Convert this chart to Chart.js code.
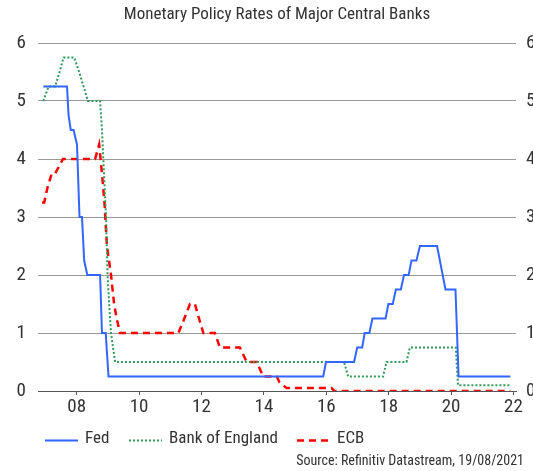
<!DOCTYPE html>
<html>
<head>
<meta charset="utf-8">
<script src="https://cdn.jsdelivr.net/npm/chart.js@4.4.1/dist/chart.umd.min.js"></script>
<style>
 html,body{margin:0;padding:0;background:#fff;}
 #wrap{width:533px;height:471px;position:relative;}
</style>
</head>
<body>
<div id="wrap"><canvas id="rates"></canvas></div>
<script>
// decimal years, % rates
const fedDates=[2006.93,2007.69,2007.74,2007.81,2007.90,2008.01,2008.09,2008.17,2008.24,2008.34,2008.75,2008.81,2008.93,2009.02,2015.90,2015.99,2016.89,2016.99,2017.15,2017.23,2017.38,2017.48,2017.90,2017.99,2018.13,2018.23,2018.39,2018.49,2018.64,2018.73,2018.89,2019.00,2019.55,2019.82,2020.14,2020.24,2021.90];
const fedRates=[5.25,5.25,4.75,4.5,4.5,4.25,3.0,3.0,2.25,2.0,2.0,1.0,1.0,0.25,0.25,0.5,0.5,0.75,0.75,1.0,1.0,1.25,1.25,1.5,1.5,1.75,1.75,2.0,2.0,2.25,2.25,2.5,2.5,1.75,1.75,0.25,0.25];

const boeDates=[2006.93,2007.10,2007.31,2007.45,2007.58,2007.92,2008.08,2008.22,2008.36,2008.75,2008.81,2008.94,2008.99,2009.04,2009.10,2009.23,2016.57,2016.70,2017.82,2017.93,2018.57,2018.68,2020.15,2020.22,2021.88];
const boeRates=[5.0,5.25,5.25,5.5,5.75,5.75,5.5,5.25,5.0,5.0,4.5,3.0,2.0,1.5,1.0,0.5,0.5,0.25,0.25,0.5,0.5,0.75,0.75,0.1,0.1];

const ecbDates=[2006.89,2006.96,2007.06,2007.20,2007.31,2007.56,2008.59,2008.72,2008.81,2008.89,2008.97,2009.10,2009.20,2009.28,2009.39,2011.26,2011.45,2011.63,2011.79,2011.92,2012.06,2012.43,2012.59,2013.23,2013.45,2013.77,2013.98,2014.41,2014.50,2014.73,2016.17,2016.26,2021.90];
const ecbRates=[3.25,3.25,3.5,3.75,3.75,4.0,4.0,4.25,3.75,3.25,2.5,2.0,1.5,1.25,1.0,1.0,1.25,1.5,1.5,1.25,1.0,1.0,0.75,0.75,0.5,0.5,0.25,0.25,0.15,0.05,0.05,0.0,0.0];

const xTicks=[2008,2010,2012,2014,2016,2018,2020,2022];
const xLabels=['08','10','12','14','16','18','20','22'];
const yTicks=[0,1,2,3,4,5,6];

const title='Monetary Policy Rates of Major Central Banks';
const source='Source: Refinitiv Datastream, 19/08/2021';

const FONT='"Liberation Sans Narrow","Roboto Condensed","Liberation Sans",Arial,sans-serif';
const ink='#333';
const pts=(xs,ys)=>xs.map((x,i)=>({x,y:ys[i]}));

const extras={
 id:'extras',
 afterDraw(chart){
  const {ctx,chartArea:a}=chart;
  ctx.save();
  ctx.fillStyle=ink;
  ctx.font='17px '+FONT;
  ctx.textAlign='center';ctx.textBaseline='middle';
  ctx.fillText(title,(a.left+a.right)/2,15);

  // legend
  const items=[[45,85],[129,169],[297,337]];
  ctx.textAlign='left';
  chart.data.datasets.forEach((ds,i)=>{
   const [lx,tx]=items[i];
   ctx.save();
   ctx.strokeStyle=ds.borderColor;
   ctx.lineWidth=ds.borderWidth;
   ctx.setLineDash(ds.borderDash||[]);
   ctx.beginPath();ctx.moveTo(lx,440.5);ctx.lineTo(lx+33,440.5);ctx.stroke();
   ctx.restore();
   ctx.font='17px '+FONT;
   ctx.fillText(ds.label,tx,439);
  });

  ctx.font='14px '+FONT;
  ctx.textAlign='right';
  ctx.fillText(source,524,461);
  ctx.restore();
 }
};

new Chart(document.getElementById('rates'),{
 type:'line',
 data:{datasets:[
  {label:'Fed',data:pts(fedDates,fedRates),borderColor:'#3366ff',borderWidth:2,pointRadius:0,tension:0},
  {label:'Bank of England',data:pts(boeDates,boeRates),borderColor:'#2e9a58',borderWidth:2,borderDash:[2,2],pointRadius:0,tension:0},
  {label:'ECB',data:pts(ecbDates,ecbRates),borderColor:'#ff0000',borderWidth:2.5,borderDash:[7,5],pointRadius:0,tension:0}
 ]},
 options:{
  responsive:true,maintainAspectRatio:false,animation:false,
  layout:{padding:{top:43,bottom:49,left:0,right:0}},
  plugins:{legend:{display:false},tooltip:{enabled:false}},
  scales:{
   x:{type:'linear',min:2006.76,max:2022.08,
    afterBuildTicks:s=>{s.ticks=xTicks.map(v=>({value:v}));},
    afterFit:s=>{s.height=31;},
    ticks:{color:ink,font:{family:FONT,size:19},padding:1,maxRotation:0,autoSkip:false,
     callback:v=>xLabels[xTicks.indexOf(v)]},
    grid:{drawOnChartArea:false,drawTicks:true,tickLength:4,color:'#555'},
    border:{color:'#555',width:1}
   },
   y:{position:'left',min:0,max:6,
    afterBuildTicks:s=>{s.ticks=yTicks.map(v=>({value:v}));},
    afterFit:s=>{s.width=38;},
    ticks:{color:ink,font:{family:FONT,size:19},padding:12},
    grid:{color:'#999',drawTicks:false},
    border:{display:false}
   },
   y2:{position:'right',min:0,max:6,
    afterBuildTicks:s=>{s.ticks=yTicks.map(v=>({value:v}));},
    afterFit:s=>{s.width=17;},
    ticks:{color:ink,font:{family:FONT,size:19},padding:2},
    grid:{display:false},
    border:{display:false}
   }
  }
 },
 plugins:[extras]
});
</script>
</body>
</html>
